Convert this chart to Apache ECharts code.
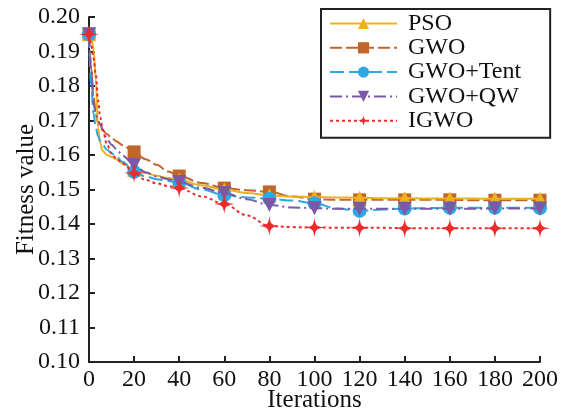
<!DOCTYPE html>
<html>
<head>
<meta charset="utf-8">
<script src="https://cdn.jsdelivr.net/npm/echarts@6/dist/echarts.min.js"></script>
<style>html,body{margin:0;padding:0;background:#fff}#c{width:570px;height:412px}</style>
</head>
<body>
<div id="c"></div>
<script>
var iterations = [0,1,2,3,4,5,6,8,10,12,15,20,25,30,35,40,50,60,70,80,90,100,110,120,130,140,150,160,170,180,190,200];
var psoValues  = [0.195,0.194,0.191,0.182,0.168,0.1635,0.1612,0.1600,0.1595,0.1588,0.1575,0.1557,0.1548,0.1540,0.1533,0.1528,0.1512,0.1500,0.1490,0.1483,0.1480,0.1478,0.1477,0.1476,0.1475,0.1475,0.1474,0.1474,0.1474,0.1473,0.1473,0.1473];
var gwoValues  = [0.195,0.185,0.177,0.172,0.1693,0.168,0.1672,0.166,0.165,0.164,0.1628,0.1609,0.1588,0.1572,0.1552,0.1539,0.1519,0.1504,0.1498,0.1493,0.1480,0.1472,0.1470,0.1470,0.1470,0.1470,0.1470,0.1470,0.1469,0.1469,0.1469,0.1469];
var tentValues = [0.195,0.180,0.172,0.168,0.1655,0.164,0.163,0.1615,0.1605,0.1595,0.158,0.1551,0.1538,0.1530,0.1525,0.1520,0.1500,0.1484,0.1477,0.1473,0.1468,0.1460,0.1445,0.1438,0.1442,0.1445,0.1446,0.1447,0.1447,0.1447,0.1447,0.1446];
var qwValues   = [0.195,0.185,0.175,0.172,0.170,0.1688,0.1675,0.1645,0.163,0.1618,0.1598,0.1571,0.1550,0.1538,0.1530,0.1522,0.1505,0.1490,0.1472,0.1455,0.1448,0.1446,0.1444,0.1444,0.1444,0.1444,0.1444,0.1444,0.1444,0.1445,0.1445,0.1445];
var igwoValues = [0.195,0.192,0.188,0.1835,0.176,0.171,0.1675,0.163,0.1605,0.159,0.1575,0.1548,0.1528,0.1518,0.1510,0.1504,0.1480,0.1458,0.1425,0.1394,0.1391,0.1390,0.1389,0.1389,0.1389,0.1388,0.1388,0.1388,0.1388,0.1388,0.1388,0.1388];
var seriesNames = ['PSO','GWO','GWO+Tent','GWO+QW','IGWO'];
var yTicks = [0.10,0.11,0.12,0.13,0.14,0.15,0.16,0.17,0.18,0.19,0.20];
var xTicks = [0,20,40,60,80,100,120,140,160,180,200];

var FONT = 'Liberation Serif';
var STAR = 'path://M0,-10 C1,-2 2,-1 10,0 C2,1 1,2 0,10 C-1,2 -2,1 -10,0 C-2,-1 -1,-2 0,-10 Z';

function build(vals) {
  return iterations.map(function (x, i) {
    var item = { value: [x, vals[i]] };
    if (x % 20 !== 0) item.symbol = 'none';
    return item;
  });
}

var styles = [
  { color: '#EDB120', symbol: 'triangle', size: 14, rotate: 0, type: 'solid', z: 3 },
  { color: '#C1652B', symbol: 'rect', size: 13, rotate: 0, type: [12, 4], z: 2 },
  { color: '#2FA7E0', symbol: 'circle', size: 14, rotate: 0, type: [14, 5], z: 4 },
  { color: '#7B59A6', symbol: 'triangle', size: 14, rotate: 180, type: [12, 4, 2, 4], z: 5 },
  { color: '#EE2A2A', symbol: STAR, size: 20, rotate: 0, type: [3, 3], z: 6 }
];
var valueSets = [psoValues, gwoValues, tentValues, qwValues, igwoValues];

var series = seriesNames.map(function (name, k) {
  var s = styles[k];
  return {
    name: name,
    type: 'line',
    data: build(valueSets[k]),
    smooth: 0.35,
    smoothMonotone: 'x',
    symbol: s.symbol,
    symbolSize: s.size,
    symbolRotate: s.rotate,
    showAllSymbol: true,
    z: s.z,
    itemStyle: { color: s.color },
    lineStyle: { color: s.color, width: 2, type: s.type },
    emphasis: { disabled: true },
    animation: false
  };
});

var chart = echarts.init(document.getElementById('c'), null, { renderer: 'canvas' });
chart.setOption({
  backgroundColor: '#fff',
  animation: false,
  grid: { left: 89, top: 17, width: 451, height: 345, containLabel: false, outerBoundsMode: 'none' },
  legend: {
    data: seriesNames,
    orient: 'vertical',
    left: 321,
    top: 9,
    itemWidth: 67,
    itemHeight: 14,
    itemGap: 0.3,
    padding: [2.5, 29, 5, 8],
    borderColor: '#222',
    borderWidth: 2,
    formatter: function (n) { return ' ' + n; },
    textStyle: { fontFamily: FONT, fontSize: 24, color: '#111' }
  },
  xAxis: {
    type: 'value',
    min: 0, max: 200, interval: 20,
    name: 'Iterations',
    nameLocation: 'middle',
    nameGap: 26,
    nameMoveOverlap: false,
    nameTextStyle: { fontFamily: FONT, fontSize: 25, color: '#111' },
    axisLine: { lineStyle: { color: '#222', width: 2 } },
    axisTick: { inside: true, length: 6, lineStyle: { color: '#222', width: 2 } },
    axisLabel: { fontFamily: FONT, fontSize: 24, color: '#111', margin: 6,
      formatter: function (v) { return xTicks.indexOf(v) >= 0 ? String(v) : ''; } },
    splitLine: { show: false }
  },
  yAxis: {
    type: 'value',
    min: 0.10, max: 0.20, interval: 0.01,
    name: 'Fitness value',
    nameLocation: 'middle',
    nameGap: 50,
    nameMoveOverlap: false,
    nameTextStyle: { fontFamily: FONT, fontSize: 25, color: '#111' },
    axisLine: { lineStyle: { color: '#222', width: 2 } },
    axisTick: { inside: true, length: 6, lineStyle: { color: '#222', width: 2 } },
    axisLabel: { fontFamily: FONT, fontSize: 24, color: '#111', margin: 9,
      formatter: function (v) {
        for (var i = 0; i < yTicks.length; i++) if (Math.abs(yTicks[i] - v) < 1e-9) return yTicks[i].toFixed(2);
        return '';
      } },
    splitLine: { show: false }
  },
  series: series
});
</script>
</body>
</html>
